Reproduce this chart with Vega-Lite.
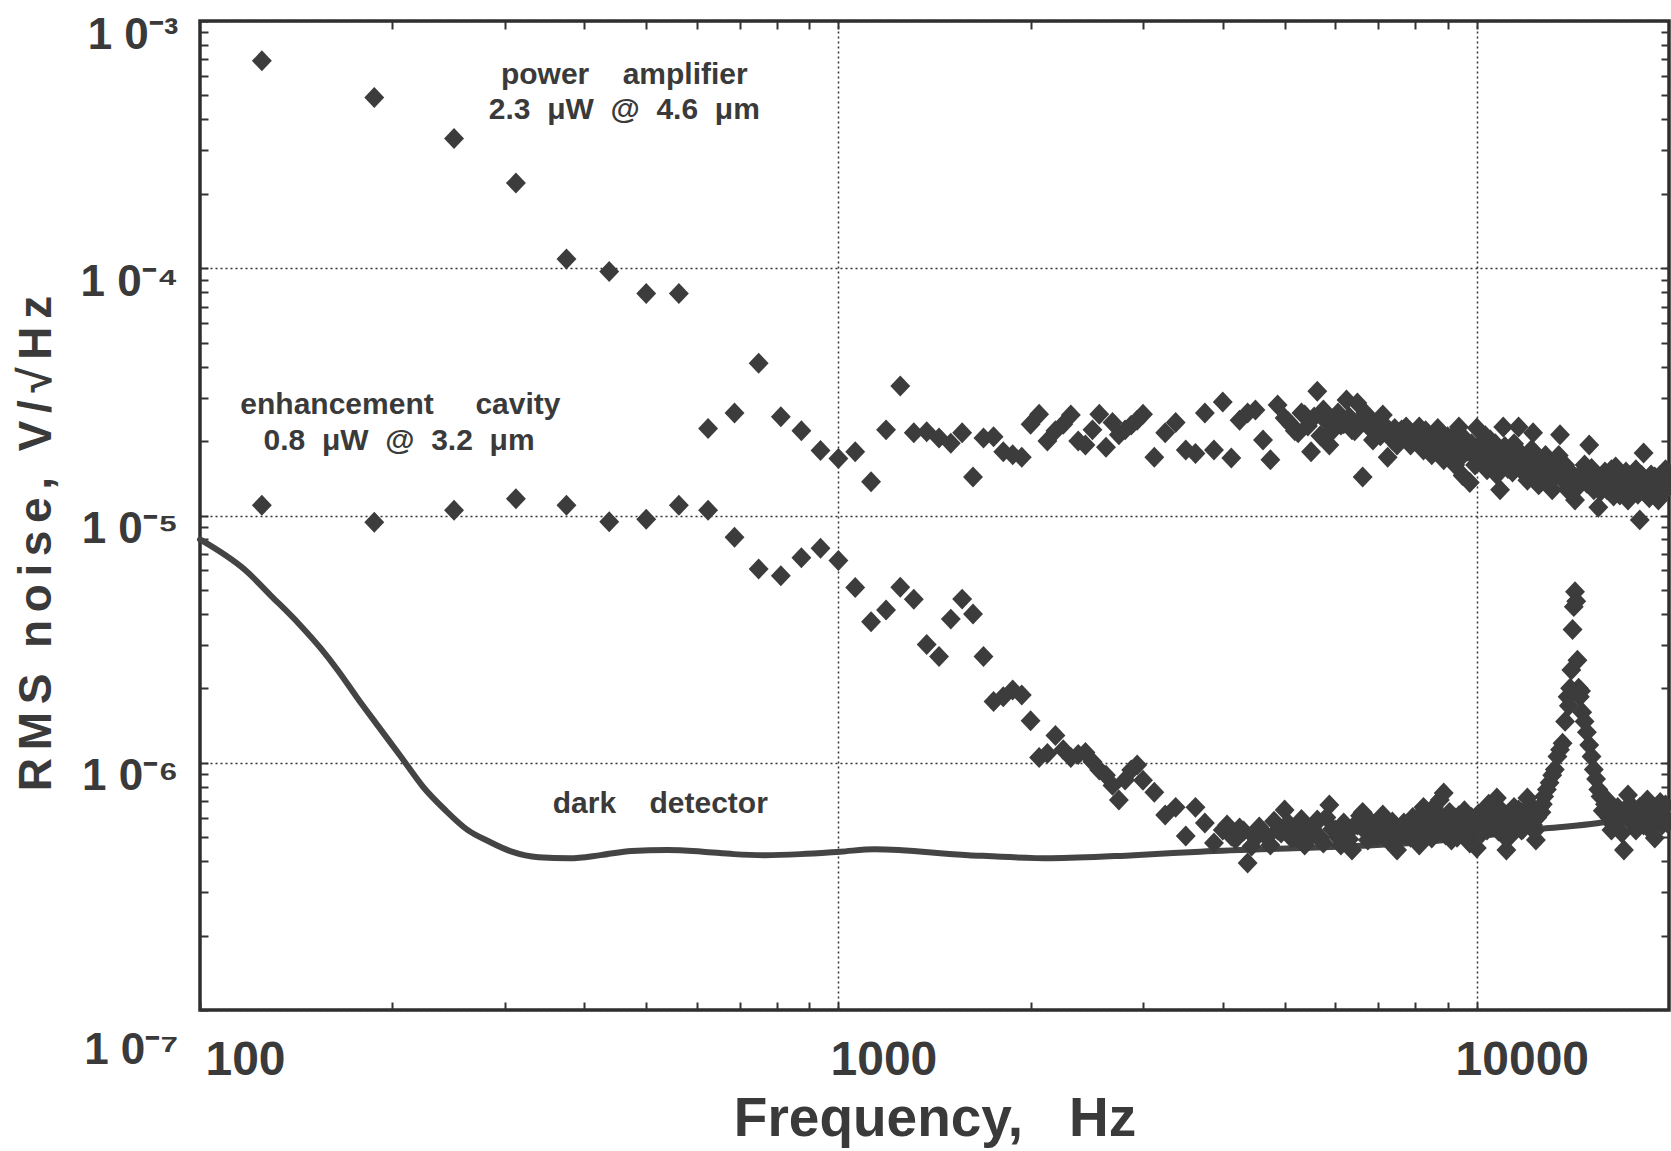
{
  "$schema": "https://vega.github.io/schema/vega-lite/v6.json",
  "width": 1469,
  "height": 989,
  "autosize": {"type": "none"},
  "padding": {"left": 200, "top": 21, "right": 2, "bottom": 141},
  "background": "white",
  "config": {"view": {"stroke": "#2e2e2e", "strokeWidth": 3.5}, "font": "Liberation Sans"},
  "datasets": {
    "dd": [
      {"f":100,"v":8.0e-6},{"f":117.8,"v":6.0e-6},{"f":129.7,"v":4.69e-6},{"f":142.7,"v":3.66e-6},{"f":154.6,"v":2.9e-6},{"f":164.9,"v":2.34e-6},{"f":175.8,"v":1.85e-6},{"f":190.4,"v":1.4e-6},{"f":206.3,"v":1.06e-6},{"f":223.5,"v":8.0e-7},{"f":242.1,"v":6.44e-7},{"f":262.4,"v":5.35e-7},{"f":284.1,"v":4.79e-7},{"f":307.8,"v":4.37e-7},{"f":338.9,"v":4.15e-7},{"f":379.1,"v":4.11e-7},{"f":424.1,"v":4.23e-7},{"f":474.3,"v":4.4e-7},{"f":539.3,"v":4.44e-7},{"f":613.2,"v":4.37e-7},{"f":685.5,"v":4.27e-7},{"f":766.9,"v":4.23e-7},{"f":871.6,"v":4.27e-7},{"f":1007,"v":4.37e-7},{"f":1140,"v":4.47e-7},{"f":1598,"v":4.23e-7},{"f":2154,"v":4.11e-7},{"f":2905,"v":4.23e-7},{"f":3690,"v":4.37e-7},{"f":8356,"v":4.79e-7},{"f":12840,"v":5.43e-7},{"f":15430,"v":5.69e-7},{"f":20000,"v":6.56e-7}
    ],
    "pa": [
      {"f":125,"v":6.9e-4},{"f":187.5,"v":4.9e-4},{"f":250,"v":3.35e-4},{"f":312.5,"v":2.21e-4},{"f":375,"v":1.09e-4},{"f":437.5,"v":9.7e-5},{"f":500,"v":7.9e-5},{"f":562.5,"v":7.9e-5},{"f":625,"v":2.25e-5},{"f":687.5,"v":2.6e-5},{"f":750,"v":4.13e-5},{"f":812.5,"v":2.51e-5},{"f":875,"v":2.2e-5},{"f":937.5,"v":1.83e-5},{"f":1000,"v":1.7e-5},{"f":1062.5,"v":1.81e-5},{"f":1125,"v":1.37e-5},{"f":1187.5,"v":2.22e-5},{"f":1250,"v":3.34e-5},{"f":1312.5,"v":2.16e-5},{"f":1375,"v":2.18e-5},{"f":1437.5,"v":2.06e-5},{"f":1500,"v":1.96e-5},{"f":1562.5,"v":2.16e-5},{"f":1625,"v":1.43e-5},{"f":1687.5,"v":2.06e-5},{"f":1750,"v":2.08e-5},{"f":1812.5,"v":1.81e-5},{"f":1875,"v":1.76e-5},{"f":1937.5,"v":1.72e-5},{"f":2000,"v":2.34e-5},{"f":2062.5,"v":2.57e-5},{"f":2125,"v":2.0e-5},{"f":2187.5,"v":2.2e-5},{"f":2250,"v":2.34e-5},{"f":2312.5,"v":2.55e-5},{"f":2375,"v":2.0e-5},{"f":2437.5,"v":1.93e-5},{"f":2500,"v":2.22e-5},{"f":2562.5,"v":2.57e-5},{"f":2625,"v":1.89e-5},{"f":2687.5,"v":2.38e-5},{"f":2750,"v":2.12e-5},{"f":2812.5,"v":2.22e-5},{"f":2875,"v":2.32e-5},{"f":2937.5,"v":2.43e-5},{"f":3000,"v":2.57e-5},
      {"f":3125,"v":1.72e-5},{"f":3250,"v":2.16e-5},{"f":3375,"v":2.38e-5},{"f":3500,"v":1.84e-5},{"f":3625,"v":1.78e-5},{"f":3750,"v":2.6e-5},{"f":3875,"v":1.84e-5},{"f":4000,"v":2.88e-5},{"f":4125,"v":1.71e-5},{"f":4250,"v":2.43e-5},{"f":4375,"v":2.6e-5},{"f":4500,"v":2.67e-5},{"f":4625,"v":2.02e-5},{"f":4750,"v":1.68e-5},{"f":4875,"v":2.8e-5},{"f":5000,"v":2.48e-5},{"f":5125,"v":2.32e-5},{"f":5250,"v":2.16e-5},{"f":5375,"v":2.55e-5},{"f":5500,"v":1.81e-5},{"f":5625,"v":3.18e-5},{"f":5750,"v":2.67e-5},{"f":5875,"v":1.93e-5},{"f":6000,"v":2.5e-5},{"f":6125,"v":2.32e-5},{"f":6250,"v":2.93e-5},{"f":6375,"v":2.22e-5},{"f":6500,"v":2.85e-5},{"f":6625,"v":1.43e-5},{"f":6750,"v":2.48e-5},{"f":6875,"v":2.02e-5},{"f":7000,"v":2.22e-5},{"f":7125,"v":2.55e-5},{"f":7250,"v":1.72e-5},{"f":7375,"v":2.02e-5},{"f":7500,"v":1.93e-5},{"f":7625,"v":2.22e-5},{"f":7750,"v":2.28e-5},{"f":7875,"v":1.93e-5},{"f":8000,"v":2.12e-5},{"f":8125,"v":2.28e-5},{"f":8250,"v":1.84e-5},{"f":8375,"v":2.02e-5},{"f":8500,"v":1.76e-5},{"f":8625,"v":2.16e-5},{"f":8750,"v":1.88e-5},{"f":8875,"v":1.68e-5},{"f":9000,"v":2.08e-5},{"f":9125,"v":1.84e-5},{"f":9250,"v":1.6e-5},{"f":9375,"v":2.28e-5},{"f":9500,"v":1.45e-5},{"f":9625,"v":1.93e-5},{"f":9750,"v":1.36e-5},{"f":9875,"v":1.76e-5},{"f":10000,"v":2.26e-5},{"f":10125,"v":1.65e-5},{"f":10250,"v":1.84e-5},{"f":10375,"v":1.53e-5},{"f":10500,"v":2.02e-5},{"f":10625,"v":1.68e-5},{"f":10750,"v":1.46e-5},{"f":10875,"v":1.27e-5},{"f":11000,"v":2.28e-5},{"f":11125,"v":1.6e-5},{"f":11250,"v":1.84e-5},{"f":11375,"v":1.5e-5},{"f":11500,"v":1.76e-5},{"f":11625,"v":2.28e-5},{"f":11750,"v":1.53e-5},{"f":11875,"v":1.68e-5},{"f":12000,"v":1.39e-5},{"f":12125,"v":1.76e-5},{"f":12250,"v":2.16e-5},{"f":12375,"v":1.56e-5},{"f":12500,"v":1.33e-5},{"f":12625,"v":1.68e-5},{"f":12750,"v":1.46e-5},{"f":12875,"v":1.6e-5},{"f":13000,"v":1.39e-5},{"f":13125,"v":1.27e-5},{"f":13250,"v":1.53e-5},{"f":13375,"v":1.68e-5},{"f":13500,"v":2.12e-5},{"f":13625,"v":1.42e-5},{"f":13750,"v":1.6e-5},{"f":13875,"v":1.27e-5},{"f":14000,"v":1.5e-5},{"f":14250,"v":1.155e-5},{"f":14500,"v":1.39e-5},{"f":14750,"v":1.6e-5},{"f":15000,"v":1.93e-5},{"f":15250,"v":1.27e-5},{"f":15500,"v":1.08e-5},{"f":15750,"v":1.42e-5},{"f":16000,"v":1.27e-5},{"f":16250,"v":1.53e-5},{"f":16500,"v":1.57e-5},{"f":16750,"v":1.21e-5},{"f":17000,"v":1.39e-5},{"f":17250,"v":1.155e-5},{"f":17500,"v":1.33e-5},{"f":17750,"v":1.53e-5},{"f":18000,"v":9.6e-6},{"f":18250,"v":1.79e-5},{"f":18500,"v":1.27e-5},{"f":18750,"v":1.46e-5},{"f":19000,"v":1.43e-5},{"f":19250,"v":1.155e-5},{"f":19500,"v":1.23e-5},{"f":19750,"v":1.53e-5},
      {"f":5062.5,"v":2.4e-5},{"f":5187.5,"v":2.2e-5},{"f":5312.5,"v":2.6e-5},{"f":5437.5,"v":2.3e-5},{"f":5562.5,"v":2.5e-5},{"f":5687.5,"v":2.1e-5},{"f":5812.5,"v":2.4e-5},{"f":5937.5,"v":2.2e-5},{"f":6062.5,"v":2.6e-5},{"f":6187.5,"v":2.35e-5},{"f":6312.5,"v":2.5e-5},{"f":6437.5,"v":2.2e-5},{"f":6562.5,"v":2.4e-5},{"f":6687.5,"v":2.6e-5},{"f":6812.5,"v":2.25e-5},{"f":6937.5,"v":2.35e-5},{"f":7062.5,"v":2.1e-5},{"f":7187.5,"v":2.3e-5},{"f":7312.5,"v":2.15e-5},{"f":7437.5,"v":2.25e-5},{"f":7562.5,"v":2.05e-5},{"f":7687.5,"v":2.15e-5},{"f":7812.5,"v":2.0e-5},{"f":7937.5,"v":2.1e-5},
      {"f":8062.5,"v":2.05e-5},{"f":8187.5,"v":1.95e-5},{"f":8312.5,"v":2.2e-5},{"f":8437.5,"v":1.9e-5},{"f":8562.5,"v":2.0e-5},{"f":8687.5,"v":2.25e-5},{"f":8812.5,"v":1.8e-5},{"f":8937.5,"v":1.98e-5},{"f":9062.5,"v":1.75e-5},{"f":9187.5,"v":2.1e-5},{"f":9312.5,"v":1.9e-5},{"f":9437.5,"v":1.72e-5},{"f":9562.5,"v":2.05e-5},{"f":9687.5,"v":1.82e-5},{"f":9812.5,"v":1.95e-5},{"f":9937.5,"v":1.6e-5},{"f":10062.5,"v":1.9e-5},{"f":10187.5,"v":1.75e-5},{"f":10312.5,"v":2.1e-5},{"f":10437.5,"v":1.65e-5},{"f":10562.5,"v":1.85e-5},{"f":10687.5,"v":1.95e-5},{"f":10812.5,"v":1.6e-5},{"f":10937.5,"v":1.78e-5},{"f":11062.5,"v":1.9e-5},{"f":11187.5,"v":1.55e-5},{"f":11312.5,"v":1.72e-5},{"f":11437.5,"v":1.95e-5},{"f":11562.5,"v":1.62e-5},{"f":11687.5,"v":1.8e-5},{"f":11812.5,"v":1.5e-5},{"f":11937.5,"v":1.72e-5},{"f":12062.5,"v":1.6e-5},{"f":12187.5,"v":1.85e-5},{"f":12312.5,"v":1.5e-5},{"f":12437.5,"v":1.7e-5},{"f":12562.5,"v":1.45e-5},{"f":12687.5,"v":1.62e-5},{"f":12812.5,"v":1.75e-5},{"f":12937.5,"v":1.5e-5},{"f":13062.5,"v":1.62e-5},{"f":13187.5,"v":1.42e-5},{"f":13312.5,"v":1.58e-5},{"f":13437.5,"v":1.75e-5},{"f":13562.5,"v":1.5e-5},{"f":13687.5,"v":1.38e-5},{"f":13812.5,"v":1.55e-5},{"f":13937.5,"v":1.45e-5},
      {"f":14125,"v":1.45e-5},{"f":14375,"v":1.3e-5},{"f":14625,"v":1.5e-5},{"f":14875,"v":1.35e-5},{"f":15125,"v":1.55e-5},{"f":15375,"v":1.4e-5},{"f":15625,"v":1.25e-5},{"f":15875,"v":1.5e-5},{"f":16125,"v":1.35e-5},{"f":16375,"v":1.2e-5},{"f":16625,"v":1.45e-5},{"f":16875,"v":1.3e-5},{"f":17125,"v":1.5e-5},{"f":17375,"v":1.28e-5},{"f":17625,"v":1.4e-5},{"f":17875,"v":1.22e-5},{"f":18125,"v":1.45e-5},{"f":18375,"v":1.35e-5},{"f":18625,"v":1.18e-5},{"f":18875,"v":1.4e-5},{"f":19125,"v":1.3e-5},{"f":19375,"v":1.45e-5},{"f":19625,"v":1.25e-5},{"f":19875,"v":1.38e-5}
    ],
    "ec": [
      {"f":125,"v":1.1e-5},{"f":187.5,"v":9.4e-6},{"f":250,"v":1.05e-5},{"f":312.5,"v":1.17e-5},{"f":375,"v":1.1e-5},{"f":437.5,"v":9.44e-6},{"f":500,"v":9.65e-6},{"f":562.5,"v":1.1e-5},{"f":625,"v":1.05e-5},{"f":687.5,"v":8.16e-6},{"f":750,"v":6.08e-6},{"f":812.5,"v":5.71e-6},{"f":875,"v":6.75e-6},{"f":937.5,"v":7.37e-6},{"f":1000,"v":6.57e-6},{"f":1062.5,"v":5.11e-6},{"f":1125,"v":3.72e-6},{"f":1187.5,"v":4.15e-6},{"f":1250,"v":5.13e-6},{"f":1312.5,"v":4.58e-6},{"f":1375,"v":3.01e-6},{"f":1437.5,"v":2.69e-6},{"f":1500,"v":3.81e-6},{"f":1562.5,"v":4.59e-6},{"f":1625,"v":4.0e-6},{"f":1687.5,"v":2.69e-6},{"f":1750,"v":1.77e-6},{"f":1812.5,"v":1.85e-6},{"f":1875,"v":1.97e-6},{"f":1937.5,"v":1.88e-6},{"f":2000,"v":1.48e-6},{"f":2062.5,"v":1.05e-6},{"f":2125,"v":1.09e-6},{"f":2187.5,"v":1.29e-6},{"f":2250,"v":1.13e-6},{"f":2312.5,"v":1.05e-6},{"f":2375,"v":1.08e-6},{"f":2437.5,"v":1.1e-6},{"f":2500,"v":1.01e-6},{"f":2562.5,"v":9.35e-7},{"f":2625,"v":8.9e-7},{"f":2687.5,"v":8.1e-7},{"f":2750,"v":7.07e-7},{"f":2812.5,"v":8.52e-7},{"f":2875,"v":9.35e-7},{"f":2937.5,"v":9.8e-7},{"f":3000,"v":8.5e-7},
      {"f":3125,"v":7.6e-7},{"f":3250,"v":6.15e-7},{"f":3375,"v":6.6e-7},{"f":3500,"v":5.05e-7},{"f":3625,"v":6.6e-7},{"f":3750,"v":5.7e-7},{"f":3875,"v":4.74e-7},{"f":4000,"v":5.35e-7},{"f":4125,"v":5.05e-7},{"f":4250,"v":5.45e-7},{"f":4375,"v":3.93e-7},{"f":4500,"v":4.96e-7},{"f":4625,"v":5.25e-7},{"f":4750,"v":4.65e-7},{"f":4875,"v":5.35e-7},{"f":5000,"v":6.44e-7},{"f":5125,"v":4.96e-7},{"f":5250,"v":5.55e-7},{"f":5375,"v":4.65e-7},{"f":5500,"v":5.05e-7},{"f":5625,"v":5.87e-7},{"f":5750,"v":4.74e-7},{"f":5875,"v":6.75e-7},{"f":6000,"v":5.35e-7},{"f":6125,"v":4.65e-7},{"f":6250,"v":5.2e-7},{"f":6375,"v":4.44e-7},{"f":6500,"v":5.6e-7},{"f":6625,"v":6.3e-7},{"f":6750,"v":4.87e-7},{"f":6875,"v":5.45e-7},{"f":7000,"v":5.05e-7},{"f":7125,"v":6.15e-7},{"f":7250,"v":4.87e-7},{"f":7375,"v":5.76e-7},{"f":7500,"v":4.44e-7},{"f":7625,"v":5.5e-7},{"f":7750,"v":5.1e-7},{"f":7875,"v":5.0e-7},{"f":8000,"v":5.87e-7},{"f":8125,"v":4.65e-7},{"f":8250,"v":6.6e-7},{"f":8375,"v":5.76e-7},{"f":8500,"v":4.96e-7},{"f":8625,"v":6.3e-7},{"f":8750,"v":7.07e-7},{"f":8875,"v":7.55e-7},{"f":9000,"v":5.6e-7},{"f":9125,"v":4.87e-7},{"f":9250,"v":5.98e-7},{"f":9375,"v":6.1e-7},{"f":9500,"v":5.35e-7},{"f":9625,"v":5.76e-7},{"f":9750,"v":4.74e-7},{"f":9875,"v":5.45e-7},{"f":10000,"v":4.52e-7},{"f":10125,"v":5.87e-7},{"f":10250,"v":6.15e-7},{"f":10375,"v":5.35e-7},{"f":10500,"v":6.6e-7},{"f":10625,"v":5.76e-7},{"f":10750,"v":7.2e-7},{"f":10875,"v":5.6e-7},{"f":11000,"v":5.1e-7},{"f":11125,"v":4.44e-7},{"f":11250,"v":5.45e-7},{"f":11375,"v":5.98e-7},{"f":11500,"v":5.76e-7},{"f":11625,"v":6.44e-7},{"f":11750,"v":5.35e-7},{"f":11875,"v":6.15e-7},{"f":12000,"v":7.2e-7},{"f":12125,"v":6.75e-7},{"f":12250,"v":5.6e-7},{"f":12375,"v":4.87e-7},{"f":12500,"v":6.3e-7},{"f":12625,"v":6.3e-7},
      {"f":12750,"v":7.3e-7},{"f":12875,"v":7.8e-7},{"f":13000,"v":8.3e-7},{"f":13125,"v":8.9e-7},{"f":13250,"v":9.4e-7},{"f":13375,"v":1.06e-6},{"f":13500,"v":1.13e-6},{"f":13625,"v":1.2e-6},{"f":13750,"v":1.47e-6},{"f":13875,"v":1.85e-6},{"f":13937.5,"v":1.7e-6},{"f":14000,"v":2.0e-6},{"f":14062.5,"v":2.37e-6},{"f":14125,"v":3.46e-6},{"f":14187.5,"v":4.28e-6},{"f":14250,"v":4.92e-6},{"f":14312.5,"v":4.5e-6},{"f":14375,"v":2.6e-6},{"f":14437.5,"v":2.0e-6},{"f":14500,"v":1.85e-6},{"f":14562.5,"v":1.95e-6},{"f":14625,"v":1.6e-6},{"f":14750,"v":1.47e-6},{"f":14875,"v":1.33e-6},{"f":15000,"v":1.18e-6},{"f":15125,"v":1.06e-6},{"f":15250,"v":9.4e-7},{"f":15375,"v":8.6e-7},{"f":15500,"v":7.8e-7},{"f":15625,"v":7.3e-7},{"f":15750,"v":6.4e-7},{"f":16000,"v":7.07e-7},{"f":16250,"v":5.35e-7},{"f":16500,"v":6.44e-7},{"f":16750,"v":5.87e-7},{"f":17000,"v":4.44e-7},{"f":17250,"v":7.4e-7},{"f":17500,"v":6.15e-7},{"f":17750,"v":5.35e-7},{"f":18000,"v":6.6e-7},{"f":18250,"v":5.6e-7},{"f":18500,"v":7.07e-7},{"f":18750,"v":5.87e-7},{"f":19000,"v":4.96e-7},{"f":19250,"v":6.3e-7},{"f":19500,"v":5.6e-7},{"f":19750,"v":6.75e-7},
      {"f":4062.5,"v":5.6e-7},{"f":4187.5,"v":4.9e-7},{"f":4312.5,"v":5.3e-7},{"f":4437.5,"v":4.6e-7},{"f":4562.5,"v":5.5e-7},{"f":4687.5,"v":5.0e-7},{"f":4812.5,"v":5.8e-7},{"f":4937.5,"v":5.2e-7},{"f":5062.5,"v":5.7e-7},{"f":5187.5,"v":5.0e-7},{"f":5312.5,"v":5.9e-7},{"f":5437.5,"v":5.3e-7},{"f":5562.5,"v":5.6e-7},{"f":5687.5,"v":5.0e-7},{"f":5812.5,"v":6.0e-7},{"f":5937.5,"v":5.4e-7},{"f":6062.5,"v":5.0e-7},{"f":6187.5,"v":5.7e-7},{"f":6312.5,"v":4.9e-7},{"f":6437.5,"v":5.6e-7},{"f":6562.5,"v":6.1e-7},{"f":6687.5,"v":5.3e-7},{"f":6812.5,"v":5.8e-7},{"f":6937.5,"v":5.1e-7},{"f":7062.5,"v":5.6e-7},{"f":7187.5,"v":5.9e-7},{"f":7312.5,"v":5.2e-7},{"f":7437.5,"v":5.5e-7},{"f":7562.5,"v":5.0e-7},{"f":7687.5,"v":5.7e-7},{"f":7812.5,"v":5.4e-7},{"f":7937.5,"v":6.0e-7},
      {"f":8062.5,"v":5.5e-7},{"f":8187.5,"v":6.2e-7},{"f":8312.5,"v":5.2e-7},{"f":8437.5,"v":5.9e-7},{"f":8562.5,"v":6.6e-7},{"f":8687.5,"v":5.4e-7},{"f":8812.5,"v":6.0e-7},{"f":8937.5,"v":5.1e-7},{"f":9062.5,"v":6.3e-7},{"f":9187.5,"v":5.6e-7},{"f":9312.5,"v":5.0e-7},{"f":9437.5,"v":5.8e-7},{"f":9562.5,"v":6.4e-7},{"f":9687.5,"v":5.3e-7},{"f":9812.5,"v":6.0e-7},{"f":9937.5,"v":5.5e-7},{"f":10062.5,"v":6.2e-7},{"f":10187.5,"v":5.2e-7},{"f":10312.5,"v":5.8e-7},{"f":10437.5,"v":6.8e-7},{"f":10562.5,"v":5.5e-7},{"f":10687.5,"v":6.1e-7},{"f":10812.5,"v":5.3e-7},{"f":10937.5,"v":6.4e-7},{"f":11062.5,"v":5.7e-7},{"f":11187.5,"v":6.2e-7},{"f":11312.5,"v":5.1e-7},{"f":11437.5,"v":6.6e-7},{"f":11562.5,"v":5.6e-7},{"f":11687.5,"v":6.0e-7},{"f":11812.5,"v":5.4e-7},{"f":11937.5,"v":6.5e-7},{"f":12062.5,"v":5.8e-7},{"f":12187.5,"v":6.3e-7},{"f":12312.5,"v":5.3e-7},{"f":12437.5,"v":6.0e-7},{"f":12562.5,"v":6.6e-7},{"f":12687.5,"v":6.8e-7},
      {"f":15875,"v":6.8e-7},{"f":16125,"v":6.0e-7},{"f":16375,"v":5.6e-7},{"f":16625,"v":6.6e-7},{"f":16875,"v":5.2e-7},{"f":17125,"v":6.2e-7},{"f":17375,"v":6.8e-7},{"f":17625,"v":5.6e-7},{"f":17875,"v":6.3e-7},{"f":18125,"v":5.9e-7},{"f":18375,"v":6.6e-7},{"f":18625,"v":5.4e-7},{"f":18875,"v":6.4e-7},{"f":19125,"v":5.8e-7},{"f":19375,"v":6.9e-7},{"f":19625,"v":6.1e-7},{"f":19875,"v":5.7e-7}
    ],
    "notes": [
      {"f":462,"v":5.56e-4,"t":"power\u00a0\u00a0\u00a0\u00a0amplifier"},
      {"f":462,"v":4.0e-4,"t":"2.3\u00a0\u00a0\u03bcW\u00a0\u00a0@\u00a0\u00a04.6\u00a0\u00a0\u03bcm"},
      {"f":206,"v":2.57e-5,"t":"enhancement\u00a0\u00a0\u00a0\u00a0\u00a0cavity"},
      {"f":205,"v":1.84e-5,"t":"0.8\u00a0\u00a0\u03bcW\u00a0\u00a0@\u00a0\u00a03.2\u00a0\u00a0\u03bcm"},
      {"f":526,"v":6.24e-7,"t":"dark\u00a0\u00a0\u00a0\u00a0detector"}
    ]
  },
  "resolve": {"axis": {"x": "independent", "y": "independent"}},
  "layer": [
    {
      "data": {"name": "dd"},
      "mark": {"type": "line", "color": "#444444", "strokeWidth": 6, "interpolate": "monotone", "strokeCap": "round"},
      "encoding": {
        "x": {"field": "f", "type": "quantitative",
          "scale": {"type": "log", "domain": [100, 20000], "nice": false, "zero": false},
          "axis": {
            "orient": "bottom",
            "values": [100,200,300,400,500,600,700,800,900,1000,2000,3000,4000,5000,6000,7000,8000,9000,10000],
            "domain": false,
            "tickSize": -8, "tickWidth": 2, "tickColor": "#333333",
            "grid": true, "gridDash": [2, 3], "gridColor": "#333333", "gridWidth": 1.5,
            "gridOpacity": {"condition": {"test": "datum.value == 1000 || datum.value == 10000", "value": 1}, "value": 0},
            "labelExpr": "(datum.value == 100 || datum.value == 1000 || datum.value == 10000) ? format(datum.value, 'd') : ''",
            "labelFont": "Liberation Sans", "labelFontWeight": "bold", "labelFontSize": 48, "labelColor": "#3a3a3a",
            "labelBaseline": "top", "labelPadding": 34, "labelOffset": 45,
            "labelOverlap": false, "labelFlush": false, "labelBound": false,
            "title": "Frequency,\u00a0\u00a0\u00a0Hz",
            "titleFont": "Liberation Sans", "titleFontWeight": "bold", "titleFontSize": 55, "titleColor": "#3a3a3a",
            "titleBaseline": "alphabetic", "titleY": 125, "titleAlign": "center"
          }
        },
        "y": {"field": "v", "type": "quantitative",
          "scale": {"type": "log", "domain": [1e-7, 1e-3], "nice": false, "zero": false},
          "axis": {
            "orient": "left",
            "values": [1e-7,2e-7,3e-7,4e-7,5e-7,6e-7,7e-7,8e-7,9e-7,1e-6,2e-6,3e-6,4e-6,5e-6,6e-6,7e-6,8e-6,9e-6,1e-5,2e-5,3e-5,4e-5,5e-5,6e-5,7e-5,8e-5,9e-5,1e-4,2e-4,3e-4,4e-4,5e-4,6e-4,7e-4,8e-4,9e-4,1e-3],
            "domain": false,
            "tickSize": -8, "tickWidth": 2, "tickColor": "#333333",
            "grid": true, "gridDash": [2, 3], "gridColor": "#333333", "gridWidth": 1.5,
            "gridOpacity": {"condition": {"test": "abs(log(datum.value)/LN10 - round(log(datum.value)/LN10)) < 0.001", "value": 1}, "value": 0},
            "labelExpr": "abs(log(datum.value)/LN10 - round(log(datum.value)/LN10)) < 0.001 ? '1 0\u207b' + ['\u2070','\u00b9','\u00b2','\u00b3','\u2074','\u2075','\u2076','\u2077','\u2078','\u2079'][-round(log(datum.value)/LN10)] : ''",
            "labelFont": "Liberation Sans", "labelFontWeight": "bold", "labelFontSize": 44, "labelColor": "#3a3a3a",
            "labelPadding": 30,
            "labelOffset": {"condition": {"test": "datum.value < 2e-7", "value": 40}, "value": 14},
            "labelOverlap": false, "labelFlush": false, "labelBound": false,
            "title": "R\u2006M\u2006S\u00a0\u00a0n\u2006o\u2006i\u2006s\u2006e\u2006,\u00a0\u00a0V\u2006/\u2006\u221a\u2006H\u2006z",
            "titleFont": "Liberation Sans", "titleFontWeight": "bold", "titleFontSize": 46, "titleColor": "#3a3a3a",
            "titleBaseline": "alphabetic", "titleAngle": 270, "titleX": -150, "titleY": 522, "titleAlign": "center"
          }
        }
      }
    },
    {
      "data": {"name": "ec"},
      "mark": {"type": "point", "shape": "M-0.95,0L0,-1L0.95,0L0,1Z", "size": 440, "filled": true, "color": "#3c3c3c", "opacity": 1},
      "encoding": {
        "x": {"field": "f", "type": "quantitative",
          "scale": {"type": "log", "domain": [100, 20000], "nice": false, "zero": false},
          "axis": {
            "orient": "top", "labels": false, "grid": false, "domain": false, "title": null,
            "values": [200,300,400,500,600,700,800,900,1000,2000,3000,4000,5000,6000,7000,8000,9000,10000],
            "tickSize": -8, "tickWidth": 2, "tickColor": "#333333"
          }
        },
        "y": {"field": "v", "type": "quantitative",
          "scale": {"type": "log", "domain": [1e-7, 1e-3], "nice": false, "zero": false},
          "axis": {
            "orient": "right", "labels": false, "grid": false, "domain": false, "title": null,
            "values": [2e-7,3e-7,4e-7,5e-7,6e-7,7e-7,8e-7,9e-7,1e-6,2e-6,3e-6,4e-6,5e-6,6e-6,7e-6,8e-6,9e-6,1e-5,2e-5,3e-5,4e-5,5e-5,6e-5,7e-5,8e-5,9e-5,1e-4,2e-4,3e-4,4e-4,5e-4,6e-4,7e-4,8e-4,9e-4],
            "tickSize": -8, "tickWidth": 2, "tickColor": "#333333"
          }
        }
      }
    },
    {
      "data": {"name": "pa"},
      "mark": {"type": "point", "shape": "M-0.95,0L0,-1L0.95,0L0,1Z", "size": 440, "filled": true, "color": "#3c3c3c", "opacity": 1},
      "encoding": {
        "x": {"field": "f", "type": "quantitative", "scale": {"type": "log", "domain": [100, 20000], "nice": false, "zero": false}, "axis": null},
        "y": {"field": "v", "type": "quantitative", "scale": {"type": "log", "domain": [1e-7, 1e-3], "nice": false, "zero": false}, "axis": null}
      }
    },
    {
      "data": {"name": "notes"},
      "mark": {"type": "text", "font": "Liberation Sans", "fontWeight": "bold", "fontSize": 30, "color": "#3a3a3a", "align": "center", "baseline": "alphabetic"},
      "encoding": {
        "x": {"field": "f", "type": "quantitative", "scale": {"type": "log", "domain": [100, 20000], "nice": false, "zero": false}, "axis": null},
        "y": {"field": "v", "type": "quantitative", "scale": {"type": "log", "domain": [1e-7, 1e-3], "nice": false, "zero": false}, "axis": null},
        "text": {"field": "t", "type": "nominal"}
      }
    }
  ]
}
